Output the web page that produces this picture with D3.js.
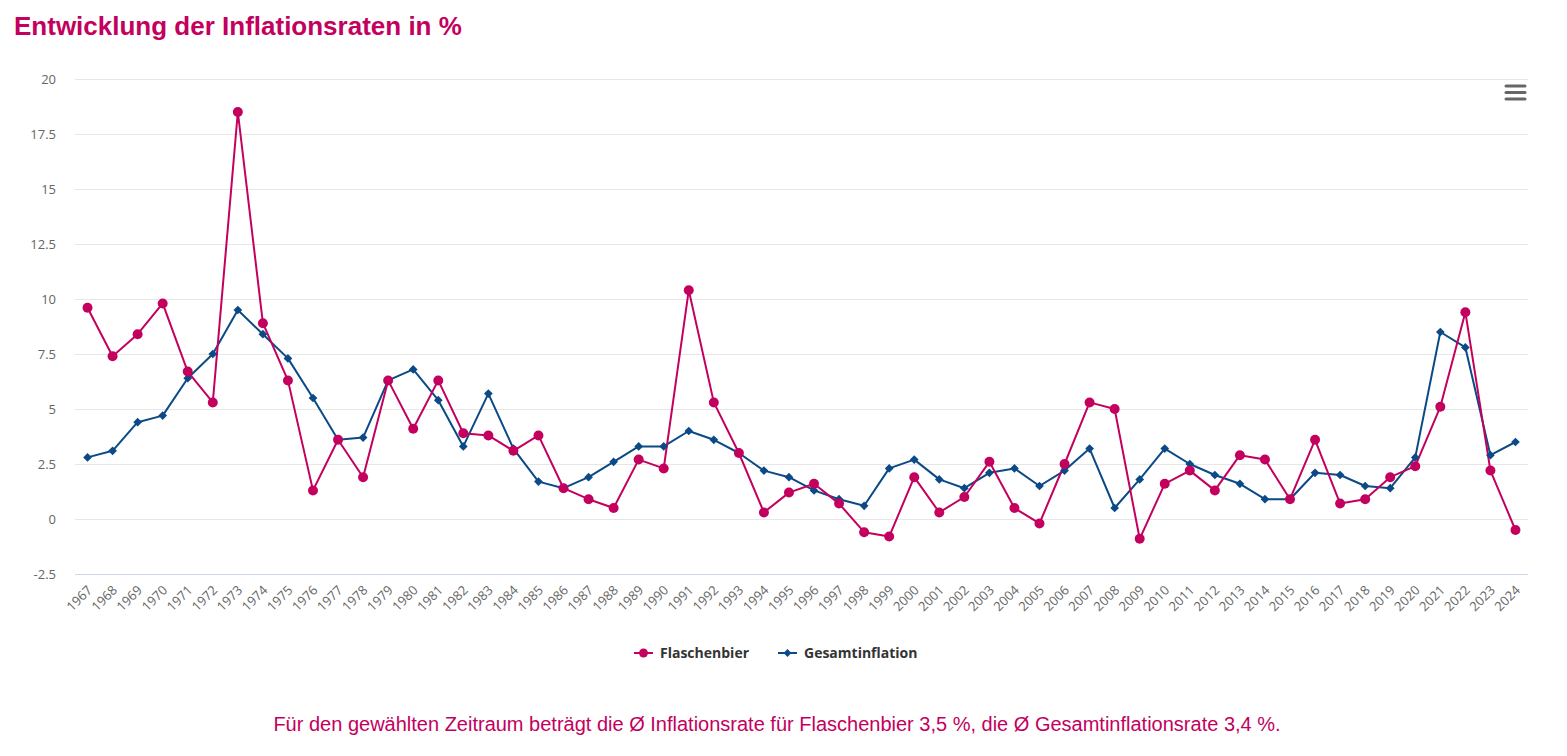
<!DOCTYPE html>
<head>
    <meta charset="utf-8">
    <script src="https://d3js.org/d3.v7.min.js"></script>
    <style>
        body { margin:0; background:#fff; }
        .tick text { font-family: "Open Sans", sans-serif; fill:#666; }
    </style>
</head>
<body>
<script>
    // data
    var years = ["1967","1968","1969","1970","1971","1972","1973","1974","1975","1976",
        "1977","1978","1979","1980","1981","1982","1983","1984","1985","1986",
        "1987","1988","1989","1990","1991","1992","1993","1994","1995","1996",
        "1997","1998","1999","2000","2001","2002","2003","2004","2005","2006",
        "2007","2008","2009","2010","2011","2012","2013","2014","2015","2016",
        "2017","2018","2019","2020","2021","2022","2023","2024"];

    var flaschenbier = [9.6, 7.4, 8.4, 9.8, 6.7, 5.3, 18.5, 8.9, 6.3, 1.3,
        3.6, 1.9, 6.3, 4.1, 6.3, 3.9, 3.8, 3.1, 3.8, 1.4,
        0.9, 0.5, 2.7, 2.3, 10.4, 5.3, 3.0, 0.3, 1.2, 1.6,
        0.7, -0.6, -0.8, 1.9, 0.3, 1.0, 2.6, 0.5, -0.2, 2.5,
        5.3, 5.0, -0.9, 1.6, 2.2, 1.3, 2.9, 2.7, 0.9, 3.6,
        0.7, 0.9, 1.9, 2.4, 5.1, 9.4, 2.2, -0.5];

    var gesamtinflation = [2.8, 3.1, 4.4, 4.7, 6.4, 7.5, 9.5, 8.4, 7.3, 5.5,
        3.6, 3.7, 6.3, 6.8, 5.4, 3.3, 5.7, 3.2, 1.7, 1.4,
        1.9, 2.6, 3.3, 3.3, 4.0, 3.6, 3.0, 2.2, 1.9, 1.3,
        0.9, 0.6, 2.3, 2.7, 1.8, 1.4, 2.1, 2.3, 1.5, 2.2,
        3.2, 0.5, 1.8, 3.2, 2.5, 2.0, 1.6, 0.9, 0.9, 2.1,
        2.0, 1.5, 1.4, 2.8, 8.5, 7.8, 2.9, 3.5];

    var yTicks = [-2.5, 0, 2.5, 5, 7.5, 10, 12.5, 15, 17.5, 20];

    // diamond = square turned 45 degrees, like the reference markers
    var series = [
        {name: "Flaschenbier", values: flaschenbier, color: "#c4005e", symbol: d3.symbolCircle, size: 78, rot: 0},
        {name: "Gesamtinflation", values: gesamtinflation, color: "#0b4a86", symbol: d3.symbolSquare, size: 38, rot: 45}
    ];

    var W = 1567, H = 756;
    var plotLeft = 75, plotRight = 1528, plotTop = 79, plotBottom = 574;

    var svg = d3.select("body").append("svg")
        .attr("width", W)
        .attr("height", H);

    var x = d3.scalePoint().domain(years).range([plotLeft, plotRight]).padding(0.5);
    var y = d3.scaleLinear().domain([-2.5, 20]).range([plotBottom, plotTop]);

    // title
    svg.append("text")
        .attr("x", 14)
        .attr("y", 35)
        .attr("font-family", "Liberation Sans, Arial, sans-serif")
        .attr("font-weight", "bold")
        .attr("font-size", 26)
        .attr("fill", "#c4005e")
        .text("Entwicklung der Inflationsraten in %");

    // grid + y axis
    var yAxis = svg.append("g")
        .attr("transform", "translate(" + plotLeft + ",0)")
        .call(d3.axisLeft(y).tickValues(yTicks).tickSize(-(plotRight - plotLeft)).tickPadding(19)
            .tickFormat(function(d) { return d; }));
    yAxis.select(".domain").remove();
    yAxis.selectAll(".tick line").attr("stroke", "#e6e6e6");
    yAxis.selectAll(".tick text").attr("font-size", 13);

    // x axis
    var xAxis = svg.append("g")
        .attr("transform", "translate(0," + plotBottom + ")")
        .call(d3.axisBottom(x).tickSize(0).tickPadding(0));
    xAxis.select(".domain").attr("stroke", "#ccd6eb").attr("d", "M" + plotLeft + ",0.5H" + plotRight);
    xAxis.selectAll(".tick text")
        .attr("font-size", 13)
        .attr("text-anchor", "end")
        .attr("dy", null)
        .attr("transform", "translate(5,17) rotate(-45)");

    // menu icon
    [86, 92.5, 99].forEach(function(yy) {
        svg.append("line")
            .attr("x1", 1506).attr("x2", 1525)
            .attr("y1", yy).attr("y2", yy)
            .attr("stroke", "#666").attr("stroke-width", 3)
            .attr("stroke-linecap", "round");
    });

    var line = d3.line()
        .x(function(d, i) { return x(years[i]); })
        .y(function(d) { return y(d); });

    // draw blue first so the red series sits on top where they overlap
    series.slice().reverse().forEach(function(s) {
        svg.append("path")
            .attr("d", line(s.values))
            .attr("fill", "none")
            .attr("stroke", s.color)
            .attr("stroke-width", 2)
            .attr("stroke-linejoin", "round");
    });
    series.slice().reverse().forEach(function(s) {
        svg.append("g").selectAll("path")
            .data(s.values)
            .join("path")
            .attr("transform", function(d, i) {
                return "translate(" + x(years[i]) + "," + y(d) + ") rotate(" + s.rot + ")";
            })
            .attr("d", d3.symbol().type(s.symbol).size(s.size))
            .attr("fill", s.color);
    });

    // legend
    var legendX = [634, 778];
    series.forEach(function(s, i) {
        var g = svg.append("g").attr("transform", "translate(" + legendX[i] + ",653)");
        g.append("line").attr("x1", 0).attr("x2", 19).attr("y1", 0).attr("y2", 0)
            .attr("stroke", s.color).attr("stroke-width", 2);
        g.append("path").attr("transform", "translate(9.5,0) rotate(" + s.rot + ")")
            .attr("d", d3.symbol().type(s.symbol).size(s.size * 0.8))
            .attr("fill", s.color);
        g.append("text")
            .attr("x", 26).attr("y", 5)
            .attr("font-family", "Open Sans, sans-serif")
            .attr("font-weight", "bold")
            .attr("font-size", 14)
            .attr("fill", "#333")
            .text(s.name);
    });

    // footnote
    svg.append("text")
        .attr("x", 777)
        .attr("y", 731)
        .attr("text-anchor", "middle")
        .attr("font-family", "Liberation Sans, Arial, sans-serif")
        .attr("font-size", 20)
        .attr("fill", "#c4005e")
        .text("Für den gewählten Zeitraum beträgt die Ø Inflationsrate für Flaschenbier 3,5 %, die Ø Gesamtinflationsrate 3,4 %.");
</script>
</body>
